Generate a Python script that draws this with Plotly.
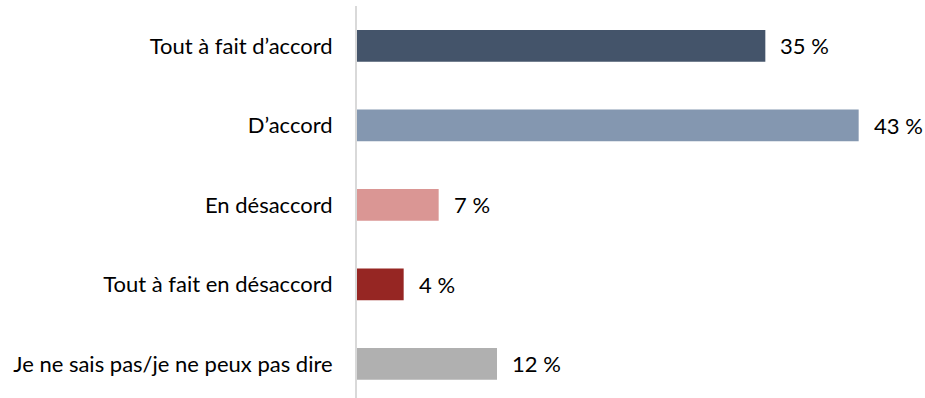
import plotly.graph_objects as go

categories = ["Tout à fait d’accord", "D’accord", "En désaccord",
              "Tout à fait en désaccord", "Je ne sais pas/je ne peux pas dire"]
values = [35, 43, 7, 4, 12]
labels = ["35 %", "43 %", "7 %", "4 %", "12 %"]
colors = ["#44546A", "#8497B0", "#DA9694", "#962623", "#B0B0B0"]

FONT = "Lato, 'Open Sans', sans-serif"
FS = 22

fig = go.Figure(go.Bar(
    x=values, y=categories, orientation="h",
    marker=dict(color=colors, line=dict(width=0)),
    width=0.40, hoverinfo="skip",
))

for c, v, t in zip(categories, values, labels):
    fig.add_annotation(x=v, y=c, text=t, showarrow=False, xanchor="left",
                       xshift=13, font=dict(family=FONT, size=FS, color="#000000"))

fig.update_layout(
    width=925, height=398,
    margin=dict(l=357, r=8, t=6, b=0),
    paper_bgcolor="white", plot_bgcolor="white",
    showlegend=False,
    font=dict(family=FONT, size=FS, color="#000000"),
    xaxis=dict(range=[0, 48], showgrid=False, zeroline=False,
               showticklabels=False, showline=False, fixedrange=True),
    yaxis=dict(type="category", categoryorder="array", categoryarray=categories,
               range=[4.43, -0.503], showgrid=False, zeroline=False,
               showline=True, linecolor="#D9D9D9", linewidth=2,
               ticks="", ticklabelstandoff=18, fixedrange=True),
)

fig.write_html("out.html", config={"displayModeBar": False},
               post_script="document.body.style.margin='0';")
